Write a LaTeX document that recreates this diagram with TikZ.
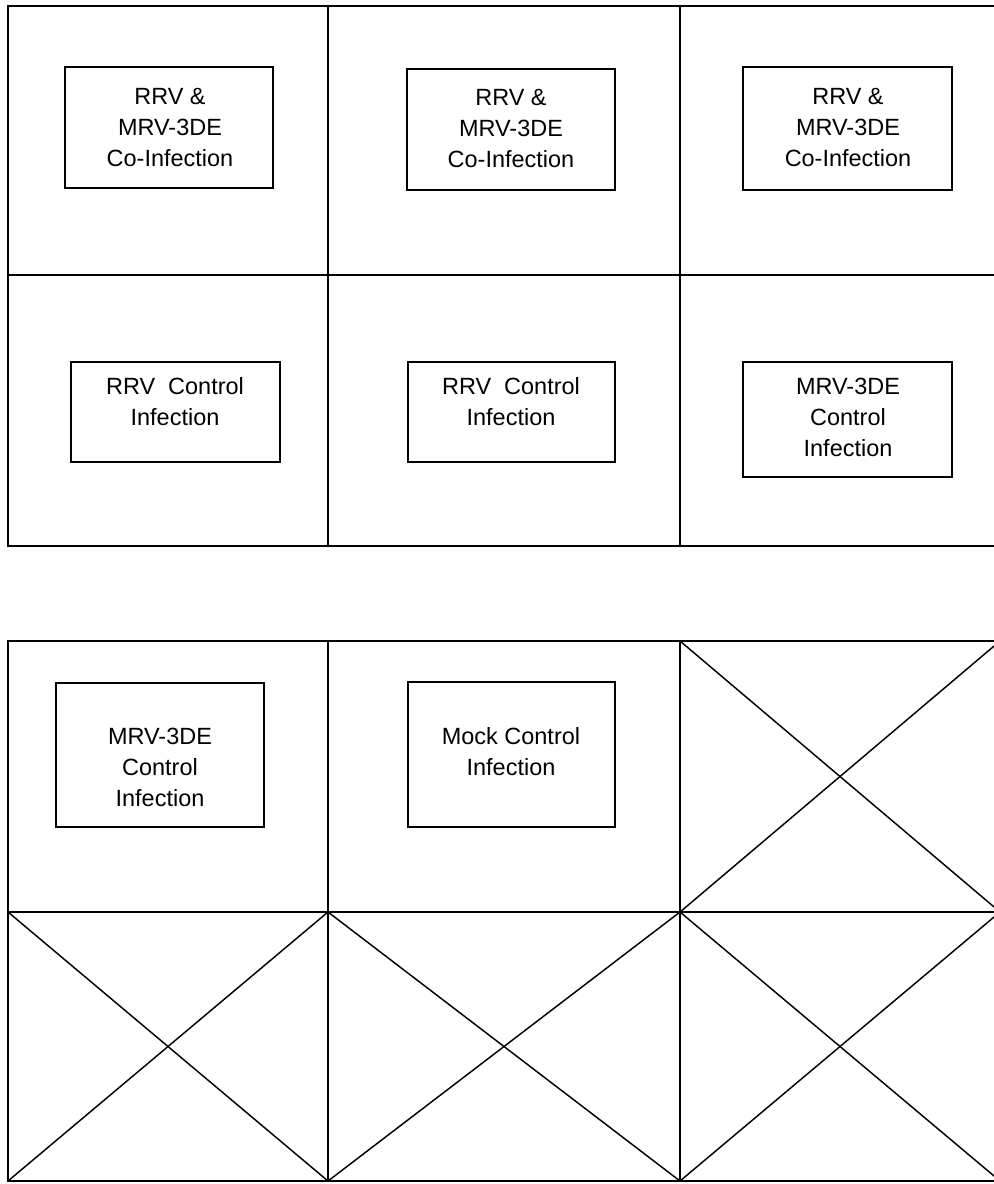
\documentclass[tikz,border=0pt]{standalone}
\usepackage{fontspec}
\setmainfont{Liberation Sans}
\begin{document}
\begin{tikzpicture}[x=0.75pt,y=-0.75pt,
  grid/.style={line width=1.1pt,black},
  box/.style={draw,line width=1.1pt,inner sep=0pt,rectangle},
  lbl/.style={align=center,inner sep=0pt,font=\fontsize{17.6pt}{23.25pt}\selectfont}]
\useasboundingbox (0,0) rectangle (994,1184);
\clip (0,0) rectangle (994,1184);
% top grid
\coordinate (t1) at (8,6);
\coordinate (t2) at (1000,546);
\draw[grid] (t1) rectangle (t2);
\draw[grid] (8,275) -- (1000,275);
\draw[grid] (328,6) -- (328,546);
\draw[grid] (680,6) -- (680,546);
% bottom grid
\draw[grid] (8,641) rectangle (1000,1181);
\draw[grid] (8,912) -- (1000,912);
\draw[grid] (328,641) -- (328,1181);
\draw[grid] (680,641) -- (680,1181);
% crosses
\draw[grid] (680,641) -- (1000,912);
\draw[grid] (680,912) -- (1000,641);
\draw[grid] (8,912) -- (328,1181);
\draw[grid] (8,1181) -- (328,912);
\draw[grid] (328,912) -- (680,1181);
\draw[grid] (328,1181) -- (680,912);
\draw[grid] (680,912) -- (1000,1181);
\draw[grid] (680,1181) -- (1000,912);
% boxes
\node[box,minimum width=208*0.75pt,minimum height=121*0.75pt] (b1) at (169,127.5) {};
\node[box,minimum width=208*0.75pt,minimum height=121*0.75pt] (b2) at (511,129.5) {};
\node[box,minimum width=209*0.75pt,minimum height=123*0.75pt] (b3) at (847.5,128.5) {};
\node[box,minimum width=209*0.75pt,minimum height=100*0.75pt] (b4) at (175.5,412) {};
\node[box,minimum width=207*0.75pt,minimum height=100*0.75pt] (b5) at (511.5,412) {};
\node[box,minimum width=209*0.75pt,minimum height=115*0.75pt] (b6) at (847.5,419.5) {};
\node[box,minimum width=208*0.75pt,minimum height=144*0.75pt] (b7) at (160,755) {};
\node[box,minimum width=207*0.75pt,minimum height=145*0.75pt] (b8) at (511.5,754.5) {};
% labels
\node[lbl] (l1) at (170,127.5) {RRV \&\\MRV-3DE\\Co-Infection};
\node[lbl] (l2) at (511,128) {RRV \&\\MRV-3DE\\Co-Infection};
\node[lbl] (l3) at (848,127.5) {RRV \&\\MRV-3DE\\Co-Infection};
\node[lbl] (l4) at (175,401.5) {RRV\ \ Control\\Infection};
\node[lbl] (l5) at (511,401.5) {RRV\ \ Control\\Infection};
\node[lbl] (l6) at (848,417.5) {MRV-3DE\\Control\\Infection};
\node[lbl] (l7) at (160,767) {MRV-3DE\\Control\\Infection};
\node[lbl] (l8) at (511,752) {Mock Control\\Infection};
\end{tikzpicture}
\end{document}
